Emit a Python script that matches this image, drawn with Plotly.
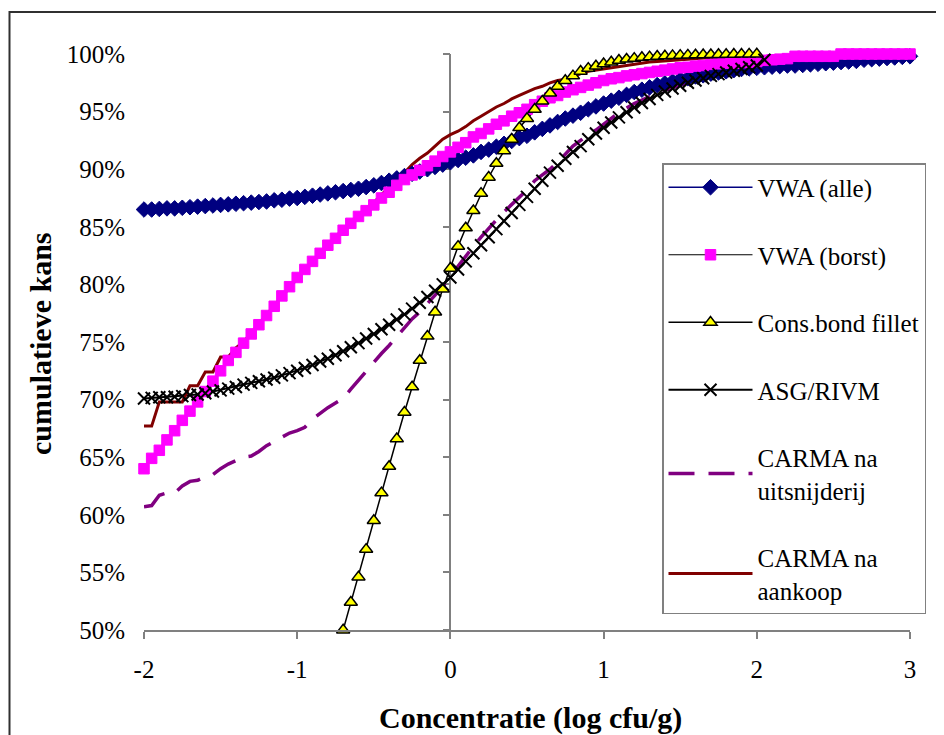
import plotly.graph_objects as go

# ---------------- data ----------------
STEP = 0.05

def grid(start, n):
    return [round(start + STEP * i, 2) for i in range(n)]

# VWA (alle): x = -2 .. 3
vwa_alle_x = grid(-2.0, 101)
vwa_alle_y = [86.5, 86.5, 86.55, 86.6, 86.6, 86.65, 86.7, 86.75, 86.8, 86.85,
              86.9, 86.95, 87.0, 87.05, 87.1, 87.15, 87.2, 87.3, 87.35, 87.45,
              87.5, 87.6, 87.7, 87.8, 87.9, 88.0, 88.1, 88.2, 88.3, 88.45,
              88.6, 88.8, 89.0, 89.2, 89.4, 89.6, 89.8, 90.0, 90.2, 90.4,
              90.6, 90.8, 91.0, 91.2, 91.5, 91.7, 91.95, 92.2, 92.45, 92.7,
              92.9, 93.2, 93.5, 93.8, 94.1, 94.4, 94.65, 94.9, 95.2, 95.45,
              95.7, 95.95, 96.2, 96.45, 96.7, 96.9, 97.1, 97.3, 97.45, 97.6,
              97.8, 97.9, 98.05, 98.15, 98.3, 98.4, 98.5, 98.6, 98.7, 98.75,
              98.8, 98.85, 98.9, 98.95, 99.0, 99.0, 99.05, 99.1, 99.15, 99.2,
              99.25, 99.3, 99.35, 99.4, 99.5, 99.55, 99.6, 99.65, 99.7, 99.75,
              99.8]

# VWA (borst): x = -2 .. 3
vwa_borst_x = grid(-2.0, 101)
vwa_borst_y = [64.0, 64.9, 65.6, 66.5, 67.3, 68.2, 69.0, 69.8, 70.7, 71.6,
               72.5, 73.4, 74.1, 74.9, 75.7, 76.5, 77.3, 78.1, 79.0, 79.8,
               80.6, 81.3, 82.0, 82.7, 83.4, 84.0, 84.7, 85.3, 85.9, 86.4,
               86.9, 87.5, 88.0, 88.6, 89.1, 89.5, 89.9, 90.3, 90.7, 91.1,
               91.5, 91.9, 92.3, 92.8, 93.1, 93.5, 93.9, 94.2, 94.6, 94.9,
               95.2, 95.6, 95.9, 96.2, 96.4, 96.7, 96.9, 97.1, 97.3, 97.5,
               97.7, 97.85, 97.95, 98.1, 98.2, 98.3, 98.4, 98.5, 98.6, 98.7,
               98.8, 98.85, 98.95, 99.0, 99.1, 99.15, 99.2, 99.2, 99.25, 99.3,
               99.35, 99.45, 99.5, 99.55, 99.6, 99.8, 99.8, 99.8, 99.8, 99.8,
               99.8, 100.0, 100.0, 100.0, 100.0, 100.0, 100.0, 100.0, 100.0, 100.0,
               100.0]

# Cons.bond fillet: x = -0.7 .. 2.0
consbond_x = grid(-0.7, 55)
consbond_y = [50.0, 52.4, 54.6, 57.0, 59.5, 61.9, 64.2, 66.6, 68.9, 71.1,
              73.4, 75.5, 77.6, 79.6, 81.4, 83.3, 84.9, 86.4, 87.9, 89.3,
              90.5, 91.6, 92.6, 93.6, 94.4, 95.2, 95.9, 96.6, 97.2, 97.7,
              98.1, 98.5, 98.75, 98.95, 99.15, 99.3, 99.45, 99.55, 99.62, 99.7,
              99.75, 99.8, 99.83, 99.86, 99.88, 99.9, 99.92, 99.93, 99.94, 99.95,
              99.96, 99.97, 99.98, 99.99, 100.0]

# ASG/RIVM: x = -2 .. 2.05
asg_x = grid(-2.0, 82)
asg_y = [70.1, 70.15, 70.2, 70.2, 70.25, 70.3, 70.4, 70.45, 70.55, 70.7,
         70.8, 70.95, 71.1, 71.3, 71.45, 71.6, 71.75, 71.9, 72.1, 72.3,
         72.5, 72.75, 73.0, 73.3, 73.55, 73.85, 74.2, 74.55, 74.9, 75.3,
         75.7, 76.1, 76.5, 76.95, 77.4, 77.9, 78.4, 78.9, 79.45, 80.0,
         80.6, 81.3, 82.0, 82.7, 83.4, 84.1, 84.8, 85.5, 86.2, 86.9,
         87.6, 88.3, 89.0, 89.7, 90.3, 90.9, 91.5, 92.0, 92.6, 93.1,
         93.6, 94.05, 94.5, 94.95, 95.35, 95.75, 96.1, 96.45, 96.75, 97.0,
         97.25, 97.5, 97.7, 97.9, 98.1, 98.25, 98.4, 98.55, 98.7, 98.85,
         99.0, 99.5]

# CARMA na uitsnijderij: x = -2 .. 2
carma_uit_x = grid(-2.0, 81)
carma_uit_y = [60.7, 60.8, 61.7, 61.9, 61.9, 62.5, 62.9, 63.0, 63.3, 63.5,
               64.0, 64.4, 64.7, 65.0, 65.1, 65.5, 66.0, 66.35, 66.7, 67.1,
               67.3, 67.6, 68.3, 68.8, 69.3, 69.7, 70.1, 70.9, 71.7, 72.5,
               73.3, 74.0, 74.7, 75.5, 76.2, 77.0, 77.6, 78.3, 79.0, 79.8,
               80.7, 81.6, 82.5, 83.3, 84.1, 84.9, 85.6, 86.3, 86.9, 87.6,
               88.2, 89.0, 89.5, 90.0, 90.6, 91.3, 92.0, 92.5, 93.0, 93.4,
               93.9, 94.4, 94.9, 95.3, 95.7, 96.0, 96.3, 96.5, 96.9, 97.1,
               97.3, 97.6, 97.9, 98.1, 98.3, 98.5, 98.7, 98.9, 99.0, 99.2,
               99.3]

# CARMA na aankoop: x = -2 .. 2
carma_aan_x = grid(-2.0, 81)
carma_aan_y = [67.7, 67.7, 69.8, 69.8, 69.8, 69.8, 71.2, 71.2, 72.4, 72.4,
               73.7, 73.7, 74.5, 75.0, 75.8, 76.6, 77.4, 78.2, 79.0, 79.8,
               80.6, 81.3, 82.0, 82.7, 83.4, 84.1, 84.8, 85.4, 86.0, 86.6,
               87.1, 87.8, 88.4, 89.1, 89.7, 90.4, 90.95, 91.4, 92.0, 92.6,
               93.0, 93.3, 93.7, 94.2, 94.6, 95.0, 95.4, 95.7, 96.1, 96.4,
               96.7, 97.0, 97.2, 97.5, 97.7, 97.8, 98.0, 98.3, 98.5, 98.6,
               98.75, 98.85, 98.95, 99.05, 99.1, 99.2, 99.3, 99.35, 99.4, 99.5,
               99.55, 99.6, 99.65, 99.7, 99.75, 99.8, 99.85, 99.87, 99.9, 99.92,
               99.95]

x_ticks = [-2, -1, 0, 1, 2, 3]
x_ticktext = ["-2", "-1", "0", "1", "2", "3"]
y_ticks = [50, 55, 60, 65, 70, 75, 80, 85, 90, 95, 100]
y_ticktext = ["50%", "55%", "60%", "65%", "70%", "75%", "80%", "85%", "90%", "95%", "100%"]

names = ["VWA (alle)", "VWA (borst)", "Cons.bond fillet", "ASG/RIVM",
         "CARMA na<br>uitsnijderij", "CARMA na<br>aankoop"]
x_title = "Concentratie (log cfu/g)"
y_title = "cumulatieve kans"

# ---------------- styles ----------------
FONT = "Liberation Serif"
NAVY = "#000080"
MAGENTA = "#FF00FF"
YELLOW = "#FFFF00"
PURPLE = "#800080"
DARKRED = "#800000"
AXIS = "#808080"

series = [
    dict(x=vwa_alle_x, y=vwa_alle_y, line=dict(color=NAVY, width=1.5),
         marker=dict(symbol="diamond", size=12, color=NAVY, line=dict(color=NAVY, width=1))),
    dict(x=vwa_borst_x, y=vwa_borst_y, line=dict(color="black", width=1),
         marker=dict(symbol="square", size=10.5, color=MAGENTA, line=dict(color=MAGENTA, width=1))),
    dict(x=consbond_x, y=consbond_y, line=dict(color="black", width=1.5),
         marker=dict(symbol="triangle-up", size=11.5, color=YELLOW, line=dict(color="black", width=1.5))),
    dict(x=asg_x, y=asg_y, line=dict(color="black", width=2),
         marker=dict(symbol="x-thin", size=12, color="black", line=dict(color="black", width=2))),
    dict(x=carma_uit_x, y=carma_uit_y, line=dict(color=PURPLE, width=3.5, dash="26px,14px"),
         marker=None),
    dict(x=carma_aan_x, y=carma_aan_y, line=dict(color=DARKRED, width=3),
         marker=None),
]

fig = go.Figure()

# lines first (like the original, all lines below all markers)
for s in series:
    fig.add_trace(go.Scatter(x=s["x"], y=s["y"], mode="lines", line=s["line"],
                             showlegend=False, hoverinfo="skip", cliponaxis=False,
                             xaxis="x", yaxis="y"))
# markers on top
for s in series:
    if s["marker"] is not None:
        fig.add_trace(go.Scatter(x=s["x"], y=s["y"], mode="markers", marker=s["marker"],
                                 showlegend=False, cliponaxis=False,
                                 xaxis="x", yaxis="y2"))
# legend entries
for i, (s, nm) in enumerate(zip(series, names)):
    kw = dict(mode="lines+markers", marker=s["marker"]) if s["marker"] else dict(mode="lines")
    fig.add_trace(go.Scatter(x=[None], y=[None], name=nm, line=s["line"],
                             legendrank=i + 1, legendgroup=f"g{i}", **kw))

# the page body adds an 8px offset; layout below is given in screen pixels
OFF = 8
W, H = 944, 735
L, T = 144 - OFF, 54 - OFF
pw, ph = 766, 576
R, B = W - L - pw, H - T - ph

def px2paper_x(sx):
    return (sx - OFF - L) / pw

def py2paper_y(sy):
    return (T + ph - (sy - OFF)) / ph

tickfont = dict(family=FONT, size=25, color="black")
titlefont = dict(family=FONT, size=30, color="black")

fig.update_layout(
    width=W, height=H,
    margin=dict(l=L, r=R, t=T, b=B, autoexpand=False),
    paper_bgcolor="white", plot_bgcolor="white",
    font=dict(family=FONT, size=25, color="black"),
    xaxis=dict(range=[-2, 3], tickmode="array", tickvals=x_ticks, ticktext=x_ticktext,
               ticks="outside", ticklen=7, automargin=False,
               tickcolor=AXIS, tickwidth=1.5, showline=True, linecolor=AXIS, linewidth=1.5,
               showgrid=False, zeroline=False, ticklabelstandoff=9,
               tickfont=tickfont),
    yaxis=dict(range=[50, 100], tickmode="array", tickvals=y_ticks, ticktext=y_ticktext,
               ticks="", showline=False, showgrid=False, zeroline=False, ticklabelstandoff=18,
               tickfont=tickfont, automargin=False),
    yaxis2=dict(range=[50, 100], tickmode="array", tickvals=y_ticks, overlaying="y",
                anchor="free", position=0.4, side="left", showticklabels=False,
                ticks="outside", ticklen=7, tickcolor=AXIS, tickwidth=1.5, showline=True,
                linecolor=AXIS, linewidth=1.5, showgrid=False, zeroline=False,
                layer="below traces", automargin=False),
    legend=dict(x=px2paper_x(662), y=py2paper_y(163), xanchor="left", yanchor="top",
                bgcolor="white", bordercolor=AXIS, borderwidth=1.5,
                font=dict(family=FONT, size=25, color="black"), tracegroupgap=32, itemwidth=84,
                traceorder="grouped"),
    annotations=[
        dict(text=f"<b>{x_title}</b>", xref="paper", yref="paper",
             x=px2paper_x(530), y=py2paper_y(718), xanchor="center", yanchor="middle",
             showarrow=False, font=titlefont),
        dict(text=f"<b>{y_title}</b>", xref="paper", yref="paper", textangle=-90,
             x=px2paper_x(40), y=py2paper_y(343), xanchor="center", yanchor="middle",
             showarrow=False, font=titlefont),
    ],
    shapes=[dict(type="rect", xref="paper", yref="paper",
                 x0=px2paper_x(9.5), x1=px2paper_x(940), y0=py2paper_y(760), y1=py2paper_y(12),
                 line=dict(color="#303030", width=2), fillcolor="rgba(0,0,0,0)", layer="below")],
    hovermode=False,
)

fig.write_html("out.html")
